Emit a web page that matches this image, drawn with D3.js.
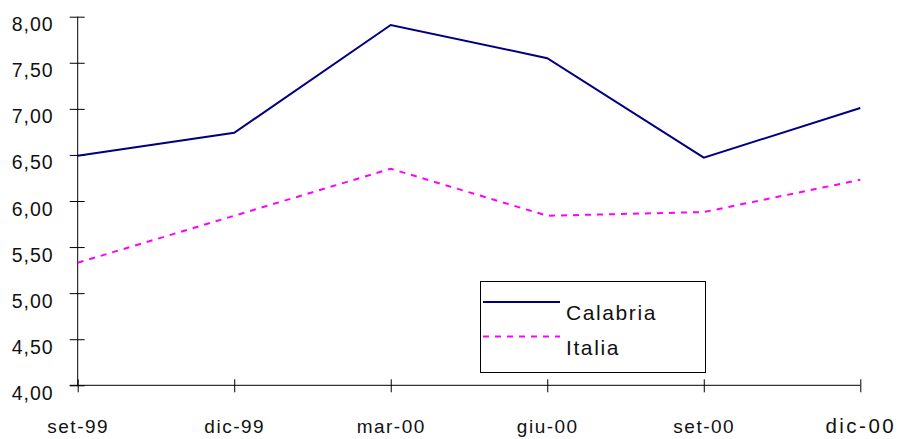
<!DOCTYPE html>
<html>
<head>
<meta charset="utf-8">
<script src="https://cdn.jsdelivr.net/npm/d3@7"></script>
<style>
  body { margin: 0; background: #fff; }
  text { font-family: "Liberation Sans", Arial, sans-serif; fill: #111; }
</style>
</head>
<body>
<script>
var width = 899,
    height = 439;

// data
var months = ["set-99", "dic-99", "mar-00", "giu-00", "set-00", "dic-00"];
var calabria = [6.49, 6.74, 7.91, 7.55, 6.47, 7.01];
var italia = [5.33, 5.84, 6.35, 5.84, 5.88, 6.23];
var yTicks = [4, 4.5, 5, 5.5, 6, 6.5, 7, 7.5, 8];
var seriesNames = ["Calabria", "Italia"];

var svg = d3.select("body").append("svg")
    .attr("width", width)
    .attr("height", height);

var x = d3.scalePoint()
    .domain(months)
    .range([77.7, 860.3]);

var y = d3.scaleLinear()
    .domain([4, 8])
    .range([385.3, 16.7]);

var fmt = function(d) { return d3.format(".2f")(d).replace(".", ","); };

// y axis
var yAxis = svg.append("g")
    .attr("transform", "translate(" + x(months[0]) + ",0)")
    .call(d3.axisLeft(y).tickValues(yTicks).tickSize(8).tickFormat(fmt));

yAxis.select(".domain").attr("d", "M0," + y(8) + "V" + y(4)).attr("stroke", "#000");
yAxis.selectAll(".tick line").attr("x1", 7).attr("x2", -8).attr("stroke", "#000");
yAxis.selectAll(".tick text")
    .attr("x", -24)
    .attr("dy", null)
    .attr("y", 14)
    .style("font-size", "19.5px")
    .style("letter-spacing", "1px")
    .attr("fill", "#111");

// x axis
var xAxis = svg.append("g")
    .attr("transform", "translate(0," + y(4) + ")")
    .call(d3.axisBottom(x).tickSize(7).tickPadding(0));

xAxis.select(".domain").attr("d", "M" + (x(months[0]) - 8) + ",0H" + x(months[5])).attr("stroke", "#000");
xAxis.selectAll(".tick line").attr("y1", -6).attr("y2", 7).attr("stroke", "#000");
xAxis.selectAll(".tick text")
    .attr("y", 48)
    .attr("dy", null)
    .style("font-size", function(d) { return d == "dic-00" ? "20.5px" : "19px"; })
    .style("letter-spacing", function(d) { return d == "dic-00" ? "2.5px" : "1.5px"; })
    .attr("fill", "#111");

// lines
var line = d3.line()
    .x(function(d, i) { return x(months[i]); })
    .y(function(d) { return y(d); });

svg.append("path")
    .datum(calabria)
    .attr("fill", "none")
    .attr("stroke", "#000080")
    .attr("stroke-width", 2)
    .attr("d", line);

svg.append("path")
    .datum(italia)
    .attr("fill", "none")
    .attr("stroke", "#ff00ff")
    .attr("stroke-width", 2)
    .attr("stroke-dasharray", "6,6")
    .attr("d", line);

// legend
var legend = svg.append("g");

legend.append("rect")
    .attr("x", 480.5)
    .attr("y", 281.5)
    .attr("width", 225)
    .attr("height", 91)
    .attr("fill", "#fff")
    .attr("stroke", "#000")
    .attr("stroke-width", 1);

var styles = [
  { color: "#000080", dash: null, y: 302 },
  { color: "#ff00ff", dash: "6,6", y: 336.5 }
];

seriesNames.forEach(function(name, i) {
  legend.append("line")
      .attr("x1", 483)
      .attr("x2", 560)
      .attr("y1", styles[i].y)
      .attr("y2", styles[i].y)
      .attr("stroke", styles[i].color)
      .attr("stroke-width", 2)
      .attr("stroke-dasharray", styles[i].dash);
  legend.append("text")
      .attr("x", 566)
      .attr("y", styles[i].y + 18)
      .style("font-size", "21px")
      .style("letter-spacing", "1.6px")
      .text(name);
});
</script>
</body>
</html>
